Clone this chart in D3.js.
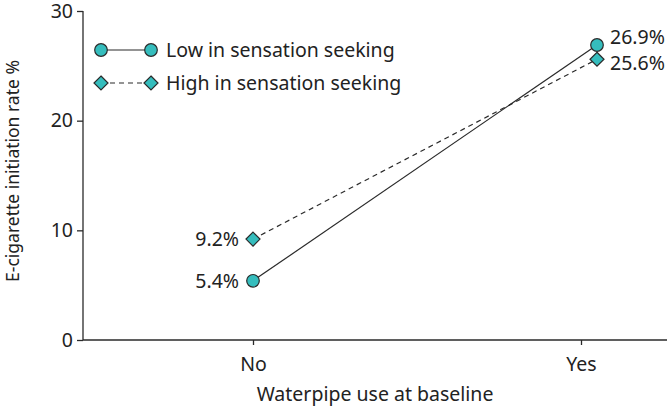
<!DOCTYPE html>
<html>
<head>
<meta charset="utf-8">
<script src="https://cdn.jsdelivr.net/npm/d3@7"></script>
<style>
  html, body { margin: 0; padding: 0; background: #fff; }
  svg { display: block; }
  text { font-family: "Noto Sans", sans-serif; fill: #222; }
</style>
</head>
<body>
<svg id="chart" width="668" height="409"></svg>
<script>
// ---- data ----
const categories = ["No", "Yes"];
const seriesNames = ["Low in sensation seeking", "High in sensation seeking"];
const lowValues = [5.4, 26.9];
const highValues = [9.2, 25.6];
const yTicks = [0, 10, 20, 30];
const xTitle = "Waterpipe use at baseline";
const yTitle = "E-cigarette initiation rate %";

const svg = d3.select("#chart");
const fill = "#35bdbd";
const ink = "#2a2a2a";
const fontSize = 19.5;
const fontFam = "'Noto Sans', sans-serif";

const y = d3.scaleLinear().domain([0, 30]).range([340, 11]);
const xAxisScale = d3.scalePoint().domain(categories).range([253, 581]);
const xMark = d3.scalePoint().domain(categories).range([253, 597]);

// y axis
const yAxis = d3.axisLeft(y).tickValues(yTicks).tickSize(6).tickPadding(4).tickSizeOuter(0);
const gy = svg.append("g").attr("transform", "translate(83,0)").call(yAxis);
gy.select(".domain").attr("stroke", ink).attr("stroke-width", 1.3).attr("d", "M0," + y(30) + "V" + y(0));
gy.selectAll(".tick line").attr("stroke", ink).attr("stroke-width", 1.3);
gy.selectAll(".tick text").attr("font-size", fontSize).attr("font-family", fontFam).attr("fill", "#222");

// x axis
const xAxis = d3.axisBottom(xAxisScale).tickSize(5).tickPadding(12).tickSizeOuter(0);
const gx = svg.append("g").attr("transform", "translate(0," + y(0) + ")").call(xAxis);
gx.select(".domain").attr("stroke", ink).attr("stroke-width", 1.3).attr("d", "M83,0H667");
gx.selectAll(".tick line").attr("stroke", ink).attr("stroke-width", 1.3);
gx.selectAll(".tick text").attr("font-size", fontSize).attr("font-family", fontFam).attr("fill", "#222");

// titles
svg.append("text").attr("x", 375).attr("y", 401).attr("text-anchor", "middle")
  .attr("font-size", fontSize).text(xTitle);
svg.append("text").attr("transform", "translate(19,171) rotate(-90)").attr("text-anchor", "middle")
  .attr("font-size", 17.5).text(yTitle);

const line = d3.line().x((d, i) => xMark(categories[i])).y(d => y(d));

// lines
svg.append("path").datum(highValues).attr("d", line).attr("fill", "none")
  .attr("stroke", ink).attr("stroke-width", 1.2).attr("stroke-dasharray", "5,4");
svg.append("path").datum(lowValues).attr("d", line).attr("fill", "none")
  .attr("stroke", ink).attr("stroke-width", 1.2);

const diamond = s => "M0," + (-s) + "L" + s + ",0L0," + s + "L" + (-s) + ",0Z";

// markers
svg.selectAll(".hi").data(highValues).join("path").attr("class", "hi")
  .attr("transform", (d, i) => "translate(" + xMark(categories[i]) + "," + y(d) + ")")
  .attr("d", diamond(7)).attr("fill", fill).attr("stroke", ink).attr("stroke-width", 1.2);
svg.selectAll(".lo").data(lowValues).join("circle").attr("class", "lo")
  .attr("cx", (d, i) => xMark(categories[i])).attr("cy", d => y(d)).attr("r", 6.3)
  .attr("fill", fill).attr("stroke", ink).attr("stroke-width", 1.2);

// value labels
const fmt = v => v.toFixed(1) + "%";
svg.selectAll(".lblLo").data(lowValues).join("text").attr("class", "lblLo")
  .attr("x", (d, i) => i === 0 ? xMark(categories[i]) - 14 : xMark(categories[i]) + 13)
  .attr("y", (d, i) => i === 0 ? y(d) : y(d) - 8)
  .attr("dy", "0.35em").attr("text-anchor", (d, i) => i === 0 ? "end" : "start")
  .attr("font-size", fontSize).text(fmt);
svg.selectAll(".lblHi").data(highValues).join("text").attr("class", "lblHi")
  .attr("x", (d, i) => i === 0 ? xMark(categories[i]) - 14 : xMark(categories[i]) + 13)
  .attr("y", (d, i) => i === 0 ? y(d) : y(d) + 4)
  .attr("dy", "0.35em").attr("text-anchor", (d, i) => i === 0 ? "end" : "start")
  .attr("font-size", fontSize).text(fmt);

// legend
const legend = svg.append("g");
const rows = [
  {name: seriesNames[0], dash: null, shape: "circle", yy: 50},
  {name: seriesNames[1], dash: "5,4", shape: "diamond", yy: 83}
];
rows.forEach(r => {
  legend.append("line").attr("x1", 101).attr("x2", 151).attr("y1", r.yy).attr("y2", r.yy)
    .attr("stroke", ink).attr("stroke-width", 1.2).attr("stroke-dasharray", r.dash);
  [101, 151].forEach(cx => {
    if (r.shape === "circle") {
      legend.append("circle").attr("cx", cx).attr("cy", r.yy).attr("r", 6.3)
        .attr("fill", fill).attr("stroke", ink).attr("stroke-width", 1.2);
    } else {
      legend.append("path").attr("transform", "translate(" + cx + "," + r.yy + ")")
        .attr("d", diamond(7)).attr("fill", fill).attr("stroke", ink).attr("stroke-width", 1.2);
    }
  });
  legend.append("text").attr("x", 166).attr("y", r.yy).attr("dy", "0.35em")
    .attr("font-size", fontSize).text(r.name);
});
</script>
</body>
</html>
